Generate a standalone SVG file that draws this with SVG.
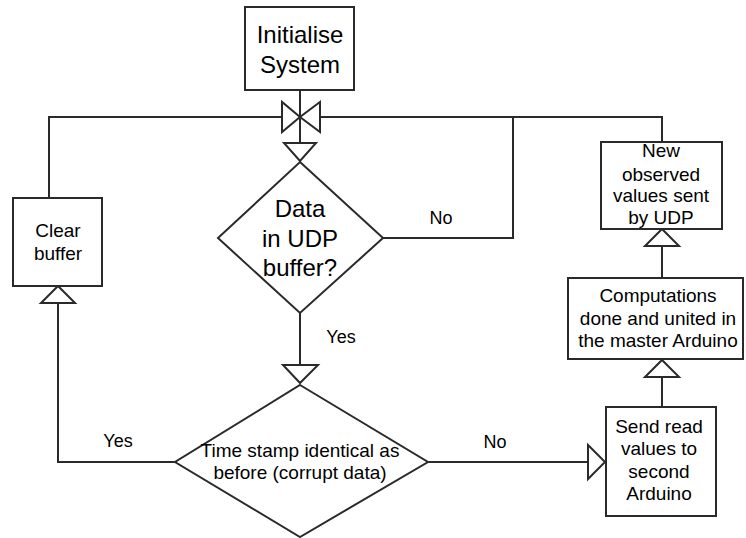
<svg xmlns="http://www.w3.org/2000/svg" width="746" height="538" viewBox="0 0 746 538">
<style>
.box{fill:#fff;stroke:#2a2a2a;stroke-width:2}
.ln{fill:none;stroke:#2a2a2a;stroke-width:2}
.ah{fill:#fff;stroke:#2a2a2a;stroke-width:2;stroke-linejoin:miter}
text{font-family:"Liberation Sans",Arial,sans-serif;fill:#000;text-anchor:middle}
.big{font-size:24px}
.mid{font-size:19px}
.lbl{font-size:18px}
</style>
<rect width="746" height="538" fill="#fff"/>
<g id="connectors">
<path class="ln" d="M300,90 V143"/>
<path class="ln" d="M282,117 H49 V198"/>
<path class="ln" d="M320,117 H662 V142"/>
<path class="ln" d="M513,117 V238 H383"/>
<path class="ln" d="M300,313 V365"/>
<path class="ln" d="M175,462 H58 V303"/>
<path class="ln" d="M428,462 H588"/>
<path class="ln" d="M662,246 V278"/>
<path class="ln" d="M662,377 V407"/>
<polygon class="ah" points="282,102 282,132 300,117"/>
<polygon class="ah" points="320,102 320,132 300,117"/>
<path class="ln" d="M300,100 V134"/>
<polygon class="ah" points="284,143 316,143 300,161"/>
<polygon class="ah" points="283,365 318,365 300,383"/>
<polygon class="ah" points="41,303 75,303 58,286"/>
<polygon class="ah" points="588,445 588,479 605,462"/>
<polygon class="ah" points="645,246 679,246 662,229"/>
<polygon class="ah" points="645,377 679,377 662,360"/>
<text class="lbl" x="441" y="224">No</text>
<text class="lbl" x="341" y="343">Yes</text>
<text class="lbl" x="118" y="447">Yes</text>
<text class="lbl" x="495" y="448">No</text>
</g>
<g id="init">
<rect class="box" x="245" y="7" width="109" height="83"/>
<text class="big" x="300" y="43">Initialise</text>
<text class="big" x="300" y="73">System</text>
</g>
<g id="data-udp">
<polygon class="box" points="300,162 383,238 300,313 218,238"/>
<text class="big" x="300" y="217">Data</text>
<text class="big" x="300" y="247">in UDP</text>
<text class="big" x="300" y="276">buffer?</text>
</g>
<g id="timestamp">
<polygon class="box" points="300,385 428,462 300,537 175,462"/>
<text class="mid" x="300" y="457">Time stamp identical as</text>
<text class="mid" x="300" y="479">before (corrupt data)</text>
</g>
<g id="clear">
<rect class="box" x="13" y="198" width="89" height="88"/>
<text class="mid" x="58" y="237">Clear</text>
<text class="mid" x="58" y="260">buffer</text>
</g>
<g id="newvals">
<rect class="box" x="601" y="142" width="121" height="87"/>
<text class="mid" x="661" y="157">New</text>
<text class="mid" x="661" y="181">observed</text>
<text class="mid" x="661" y="202">values sent</text>
<text class="mid" x="661" y="224">by UDP</text>
</g>
<g id="compute">
<rect class="box" x="568" y="278" width="175" height="81"/>
<text class="mid" x="658" y="302">Computations</text>
<text class="mid" x="658" y="325">done and united in</text>
<text class="mid" x="658" y="347">the master Arduino</text>
</g>
<g id="send">
<rect class="box" x="606" y="407" width="110" height="109"/>
<text class="mid" x="659" y="433">Send read</text>
<text class="mid" x="659" y="455">values to</text>
<text class="mid" x="659" y="478">second</text>
<text class="mid" x="659" y="500">Arduino</text>
</g>
</svg>
